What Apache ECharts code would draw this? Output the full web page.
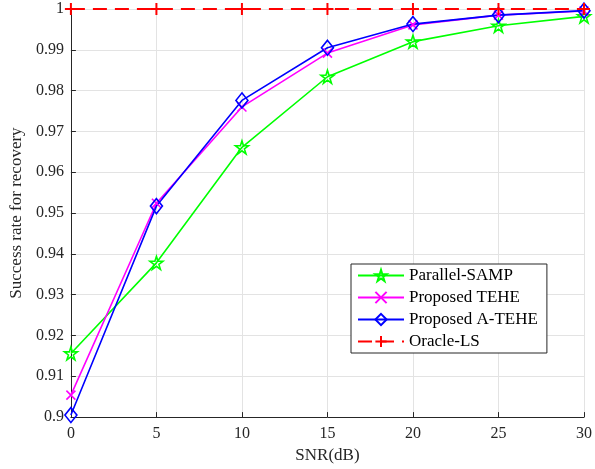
<!DOCTYPE html>
<html><head><meta charset="utf-8">
<script src="https://cdn.jsdelivr.net/npm/echarts@6/dist/echarts.min.js"></script>
<style>html,body{margin:0;padding:0;background:#fff}#c{width:595px;height:469px}</style>
</head><body><div id="c"></div>
<script>
const snr = [0, 5, 10, 15, 20, 25, 30];
const parallelSAMP = [0.9156, 0.9378, 0.9661, 0.9834, 0.9920, 0.9959, 0.9982];
const proposedTEHE = [0.9054, 0.9524, 0.9760, 0.9892, 0.9961, 0.9985, 0.9995];
const proposedATEHE = [0.9005, 0.9517, 0.9776, 0.9905, 0.9963, 0.9985, 0.9996];
const oracleLS = [1, 1, 1, 1, 1, 1, 1];
const seriesNames = ['Parallel-SAMP', 'Proposed TEHE', 'Proposed A-TEHE', 'Oracle-LS'];

const STAR = 'path://M10 0 L12.245 6.91 L19.51 6.91 L13.63 11.18 L15.88 18.09 L10 13.82 L4.12 18.09 L6.37 11.18 L0.49 6.91 L7.755 6.91 Z';
const XMARK = 'path://M0 0 L10 10 M10 0 L0 10';
const PLUS = 'path://M5 0 L5 10 M0 5 L10 5';
const FONT = 'Liberation Serif';
const TXT = '#262626';

function pair(arr){ return snr.map((x,i)=>[x, arr[i]]); }

function mk(name, data, color, symbol, size, dashed){
  return {
    name, type:'line', data: pair(data), symbol, symbolSize: size,
    showAllSymbol: true,
    lineStyle: {color, width: dashed ? 2 : 1.6, type: dashed ? [14, 8] : 'solid'},
    itemStyle: {color: 'rgba(255,255,255,0)', borderColor: color, borderWidth: dashed ? 2 : 1.6},
    emphasis: {disabled: true}, animation: false
  };
}

const chart = echarts.init(document.getElementById('c'), null, {renderer:'canvas'});
chart.setOption({
  animation: false,
  textStyle: {fontFamily: FONT},
  grid: {left: 66, right: 8, top: 9, bottom: 50, containLabel: false},
  xAxis: {
    type: 'value', min: 0, max: 30, interval: 5,
    name: 'SNR(dB)', nameLocation: 'middle', nameGap: 27,
    nameTextStyle: {fontFamily: FONT, fontSize: 17, color: TXT},
    axisLine: {show: true, lineStyle: {color: TXT, width: 1}},
    axisTick: {show: true, inside: true, length: 5, lineStyle: {color: TXT}},
    axisLabel: {fontFamily: FONT, fontSize: 16, color: TXT, margin: 9},
    splitLine: {show: true, lineStyle: {color: '#e3e3e3', width: 1}}
  },
  yAxis: {
    type: 'value', min: 0.9, max: 1, interval: 0.01,
    name: 'Success rate for recovery', nameLocation: 'middle', nameGap: 42,
    nameTextStyle: {fontFamily: FONT, fontSize: 17, color: TXT},
    axisLine: {show: true, lineStyle: {color: TXT, width: 1}},
    axisTick: {show: true, inside: true, length: 5, lineStyle: {color: TXT}},
    axisLabel: {fontFamily: FONT, fontSize: 16, color: TXT, margin: 7,
      formatter: v => String(parseFloat(v.toFixed(2)))},
    splitLine: {show: true, lineStyle: {color: '#e3e3e3', width: 1}}
  },
  legend: {
    orient: 'vertical', left: 351, top: 264,
    data: seriesNames,
    itemWidth: 46, itemHeight: 14, itemGap: 5,
    padding: [3, 9, 3, 6],
    backgroundColor: '#fff', borderColor: '#262626', borderWidth: 1,
    textStyle: {fontFamily: FONT, fontSize: 17, color: '#000', lineHeight: 17},
    selectedMode: false
  },
  series: [
    mk(seriesNames[0], parallelSAMP, '#00ff00', STAR, 13, false),
    mk(seriesNames[1], proposedTEHE, '#ff00ff', XMARK, 9, false),
    mk(seriesNames[2], proposedATEHE, '#0000ff', 'diamond', [12, 15], false),
    mk(seriesNames[3], oracleLS, '#ff0000', PLUS, 12, true)
  ]
});
</script></body></html>
